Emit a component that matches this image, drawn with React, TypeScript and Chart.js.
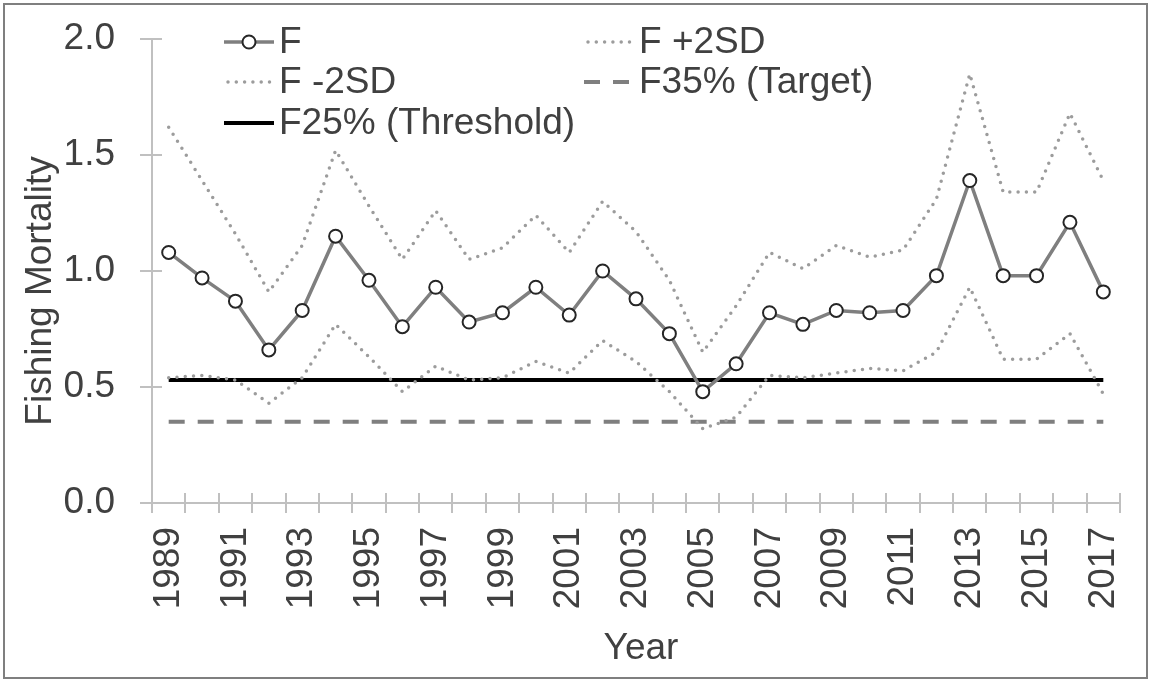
import React, { useEffect, useRef } from "react";
import { Chart, registerables } from "chart.js";

Chart.register(...registerables);

// ---------- data ----------
const YEARS = [
  "1989", "1990", "1991", "1992", "1993", "1994", "1995", "1996", "1997", "1998",
  "1999", "2000", "2001", "2002", "2003", "2004", "2005", "2006", "2007", "2008",
  "2009", "2010", "2011", "2012", "2013", "2014", "2015", "2016", "2017",
];
const F_VALUES = [
  1.08, 0.97, 0.87, 0.66, 0.83, 1.15, 0.96, 0.76, 0.93, 0.78,
  0.82, 0.93, 0.81, 1.0, 0.88, 0.73, 0.48, 0.6, 0.82, 0.77,
  0.83, 0.82, 0.83, 0.98, 1.39, 0.98, 0.98, 1.21, 0.91,
];
const F_PLUS_2SD = [
  1.62, 1.39, 1.16, 0.91, 1.11, 1.52, 1.28, 1.05, 1.26, 1.05,
  1.1, 1.24, 1.08, 1.3, 1.17, 0.96, 0.65, 0.85, 1.08, 1.01,
  1.11, 1.06, 1.09, 1.31, 1.85, 1.34, 1.34, 1.68, 1.39,
];
const F_MINUS_2SD = [
  0.54, 0.55, 0.53, 0.43, 0.54, 0.77, 0.63, 0.48, 0.59, 0.53,
  0.54, 0.61, 0.56, 0.7, 0.61, 0.48, 0.32, 0.37, 0.55, 0.54,
  0.56, 0.58, 0.57, 0.65, 0.93, 0.62, 0.62, 0.73, 0.47,
];
const F25_THRESHOLD = 0.53;
const F35_TARGET = 0.35;
const X_TICK_LABELS = [
  "1989", "1991", "1993", "1995", "1997", "1999", "2001", "2003",
  "2005", "2007", "2009", "2011", "2013", "2015", "2017",
];
const Y_MIN = 0;
const Y_MAX = 2;
const Y_STEP = 0.5;
const X_TITLE = "Year";
const Y_TITLE = "Fishing Mortality";

// ---------- style ----------
const FONT = '"Liberation Sans", Arial, Helvetica, sans-serif';
const FONT_SIZE = 37;
const TEXT = "#404040";
const AXIS = "#c0c0c0";

const customPlugin = {
  id: "customDecor",
  beforeDatasetsDraw(chart: any) {
    const { ctx, chartArea, scales } = chart;
    const y = scales.y;
    ctx.save();
    ctx.strokeStyle = AXIS;
    ctx.lineWidth = 2;
    // inner half of x ticks (category boundaries)
    const n = YEARS.length;
    const step = (chartArea.right - chartArea.left) / n;
    for (let i = 1; i <= n; i++) {
      const px = Math.round(chartArea.left + i * step);
      ctx.beginPath();
      ctx.moveTo(px, chartArea.bottom);
      ctx.lineTo(px, chartArea.bottom - 10);
      ctx.stroke();
    }
    // inner half of y ticks
    y.ticks.forEach((t: any) => {
      const py = Math.round(y.getPixelForValue(t.value));
      ctx.beginPath();
      ctx.moveTo(chartArea.left, py);
      ctx.lineTo(chartArea.left + 10, py);
      ctx.stroke();
    });
    ctx.restore();
  },
  afterDraw(chart: any) {
    const { ctx, chartArea } = chart;
    const ds = chart.data.datasets;
    ctx.save();
    ctx.font = `${FONT_SIZE}px ${FONT}`;
    ctx.fillStyle = TEXT;
    ctx.textBaseline = "middle";

    // axis titles
    ctx.textAlign = "center";
    ctx.fillText(X_TITLE, (chartArea.left + chartArea.right) / 2 + 5, 649);
    ctx.save();
    ctx.translate(41, 291);
    ctx.rotate(-Math.PI / 2);
    ctx.fillText(Y_TITLE, 0, 0);
    ctx.restore();

    // legend
    const cols = [224, 584];
    const rows = [42, 82, 123];
    const symW = 50;
    const items = [
      { d: ds[0], c: 0, r: 0 },
      { d: ds[1], c: 1, r: 0 },
      { d: ds[2], c: 0, r: 1 },
      { d: ds[4], c: 1, r: 1 },
      { d: ds[3], c: 0, r: 2 },
    ];
    items.forEach(({ d, c, r }) => {
      const x0 = cols[c];
      const yy = rows[r];
      ctx.save();
      ctx.strokeStyle = d.borderColor;
      ctx.lineWidth = d.borderWidth;
      ctx.lineCap = d.borderCapStyle || "butt";
      ctx.setLineDash(d.borderDash || []);
      ctx.beginPath();
      const start = d.borderDash && d.borderDash[0] === 0 ? x0 + 4 : x0;
      ctx.moveTo(start, yy);
      ctx.lineTo(x0 + symW, yy);
      ctx.stroke();
      ctx.setLineDash([]);
      if (d.pointRadius > 0) {
        ctx.beginPath();
        ctx.arc(x0 + symW / 2, yy, d.pointRadius, 0, Math.PI * 2);
        ctx.fillStyle = d.pointBackgroundColor;
        ctx.fill();
        ctx.lineWidth = d.pointBorderWidth;
        ctx.strokeStyle = d.pointBorderColor;
        ctx.stroke();
      }
      ctx.restore();
      ctx.textAlign = "left";
      ctx.fillStyle = TEXT;
      ctx.fillText(d.label, x0 + symW + 5, yy + 1);
    });
    ctx.restore();
  },
};

export default function App() {
  const canvasRef = useRef<HTMLCanvasElement | null>(null);

  useEffect(() => {
    if (!canvasRef.current) return;
    const chart = new Chart(canvasRef.current, {
      type: "line",
      data: {
        labels: YEARS,
        datasets: [
          {
            label: "F",
            data: F_VALUES,
            borderColor: "#7f7f7f",
            borderWidth: 3.5,
            pointRadius: 6.5,
            pointBackgroundColor: "#ffffff",
            pointBorderColor: "#262626",
            pointBorderWidth: 2,
            tension: 0,
          },
          {
            label: "F +2SD",
            data: F_PLUS_2SD,
            borderColor: "#9c9c9c",
            borderWidth: 3.5,
            borderDash: [0, 8.3],
            borderCapStyle: "round",
            pointRadius: 0,
            tension: 0,
          },
          {
            label: "F -2SD",
            data: F_MINUS_2SD,
            borderColor: "#9c9c9c",
            borderWidth: 3.5,
            borderDash: [0, 8.3],
            borderCapStyle: "round",
            pointRadius: 0,
            tension: 0,
          },
          {
            label: "F25% (Threshold)",
            data: YEARS.map(() => F25_THRESHOLD),
            borderColor: "#000000",
            borderWidth: 4,
            pointRadius: 0,
            tension: 0,
          },
          {
            label: "F35% (Target)",
            data: YEARS.map(() => F35_TARGET),
            borderColor: "#7f7f7f",
            borderWidth: 4,
            borderDash: [16, 13],
            pointRadius: 0,
            tension: 0,
          },
        ],
      },
      options: {
        responsive: false,
        animation: false,
        events: [],
        layout: { padding: { top: 39, right: 31, bottom: 0, left: 0 } },
        plugins: {
          legend: { display: false },
          tooltip: { enabled: false },
        },
        scales: {
          x: {
            type: "category",
            offset: true,
            grid: {
              offset: true,
              drawOnChartArea: false,
              color: AXIS,
              lineWidth: 2,
              tickLength: 10,
            },
            border: { color: AXIS, width: 2 },
            ticks: {
              autoSkip: false,
              maxRotation: 90,
              minRotation: 90,
              padding: 14,
              color: TEXT,
              font: { family: FONT, size: FONT_SIZE },
              callback: (_v: any, i: number) =>
                X_TICK_LABELS.includes(YEARS[i]) ? YEARS[i] : "",
            },
            afterFit: (s: any) => {
              s.height = 177;
              s.paddingLeft = 0;
              s.paddingRight = 0;
            },
          },
          y: {
            min: Y_MIN,
            max: Y_MAX,
            grid: {
              drawOnChartArea: false,
              color: AXIS,
              lineWidth: 2,
              tickLength: 12,
            },
            border: { color: AXIS, width: 2 },
            ticks: {
              stepSize: Y_STEP,
              padding: 25,
              color: TEXT,
              font: { family: FONT, size: FONT_SIZE },
              callback: (v: any) => Number(v).toFixed(1),
            },
            afterFit: (s: any) => {
              s.width = 152;
              s.paddingTop = 0;
              s.paddingBottom = 0;
            },
          },
        },
      },
      plugins: [customPlugin],
    } as any);
    return () => chart.destroy();
  }, []);

  return (
    <div
      style={{
        position: "absolute",
        left: 0,
        top: 0,
        width: 1151,
        height: 680,
        background: "#ffffff",
      }}
    >
      <canvas
        ref={canvasRef}
        width={1151}
        height={680}
        style={{ position: "absolute", left: 0, top: 0, width: 1151, height: 680 }}
      />
      <div
        style={{
          position: "absolute",
          left: 3,
          top: 3,
          width: 1145,
          height: 676,
          border: "2px solid #7f7f7f",
          boxSizing: "border-box",
          pointerEvents: "none",
        }}
      />
    </div>
  );
}
